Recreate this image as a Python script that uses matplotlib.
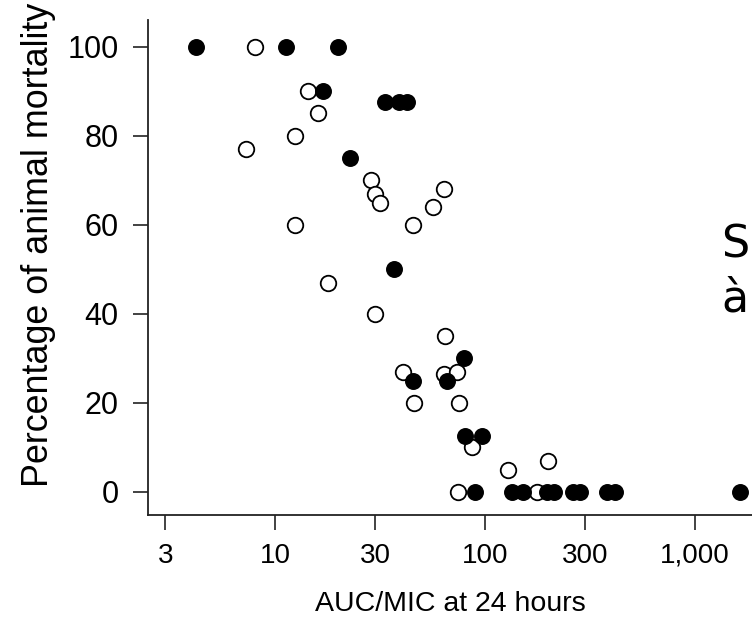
import matplotlib
matplotlib.use("Agg")
import matplotlib.pyplot as plt
from matplotlib.ticker import FixedLocator, NullLocator

plt.rcParams['font.family'] = ['Liberation Sans', 'DejaVu Sans']

# filled circles
filled_auc = [4.2, 11.3, 20.0, 16.9, 33.4, 38.9, 42.5, 22.8, 36.9, 79.4, 45.4, 65.9,
              80.3, 96.8, 89.6, 134.5, 151.7, 197, 213, 262, 283, 381, 416, 1637]
filled_mort = [100, 100, 100, 90, 87.5, 87.5, 87.5, 75, 50, 30, 25, 25,
               12.5, 12.5, 0, 0, 0, 0, 0, 0, 0, 0, 0, 0]

# open circles
open_auc = [8.0, 14.4, 16.0, 12.4, 7.3, 28.6, 29.9, 31.6, 12.4, 45.4, 63.8, 56.5,
            17.9, 29.9, 64.5, 40.7, 63.8, 73.6, 45.9, 75.1, 86.7, 128.8, 200, 74.3, 177]
open_mort = [100, 90, 85, 80, 77, 70, 67, 65, 60, 60, 68, 64,
             47, 40, 35, 27, 26.5, 27, 20, 20, 10, 5, 7, 0, 0]

xticks = [3, 10, 30, 100, 300, 1000]
xtick_labels = ['3', '10', '30', '100', '300', '1,000']
yticks = [0, 20, 40, 60, 80, 100]

fig = plt.figure(figsize=(7.52, 6.28), dpi=100, facecolor='w')
ax = fig.add_axes([148 / 752, 1 - 515 / 628, 1 - 148 / 752, (515 - 20) / 628])

ax.scatter(open_auc, open_mort, s=125, facecolor='white', edgecolor='black',
           linewidth=1.3, zorder=3, clip_on=False)
ax.scatter(filled_auc, filled_mort, s=125, facecolor='black', edgecolor='black',
           linewidth=1.0, zorder=4, clip_on=False)

ax.set_xscale('log')
ax.set_xlim(2.48, 1867)
ax.set_ylim(-5.2, 106)

ax.xaxis.set_major_locator(FixedLocator(xticks))
ax.xaxis.set_minor_locator(NullLocator())
ax.set_xticklabels(xtick_labels)
ax.set_yticks(yticks)

for side in ('top', 'right'):
    ax.spines[side].set_visible(False)
for side in ('left', 'bottom'):
    ax.spines[side].set_linewidth(1.3)
    ax.spines[side].set_color('#222222')

ax.tick_params(axis='both', direction='out', length=11, width=1.2, color='#222222')
ax.tick_params(axis='x', labelsize=20, pad=9)
ax.tick_params(axis='y', labelsize=22, pad=10)

ax.set_xlabel('AUC/MIC at 24 hours', fontsize=20.5, labelpad=16)
ax.set_ylabel('Percentage of animal mortality', fontsize=25.8, labelpad=8, y=0.545)

fig.text(721 / 752, 1 - 257 / 628, 'S', fontsize=32, family=['DejaVu Sans'], va='baseline')
fig.text(721 / 752, 1 - 312 / 628, 'à', fontsize=32, family=['DejaVu Sans'], va='baseline')

fig.savefig('out.png', dpi=100, facecolor='w')
